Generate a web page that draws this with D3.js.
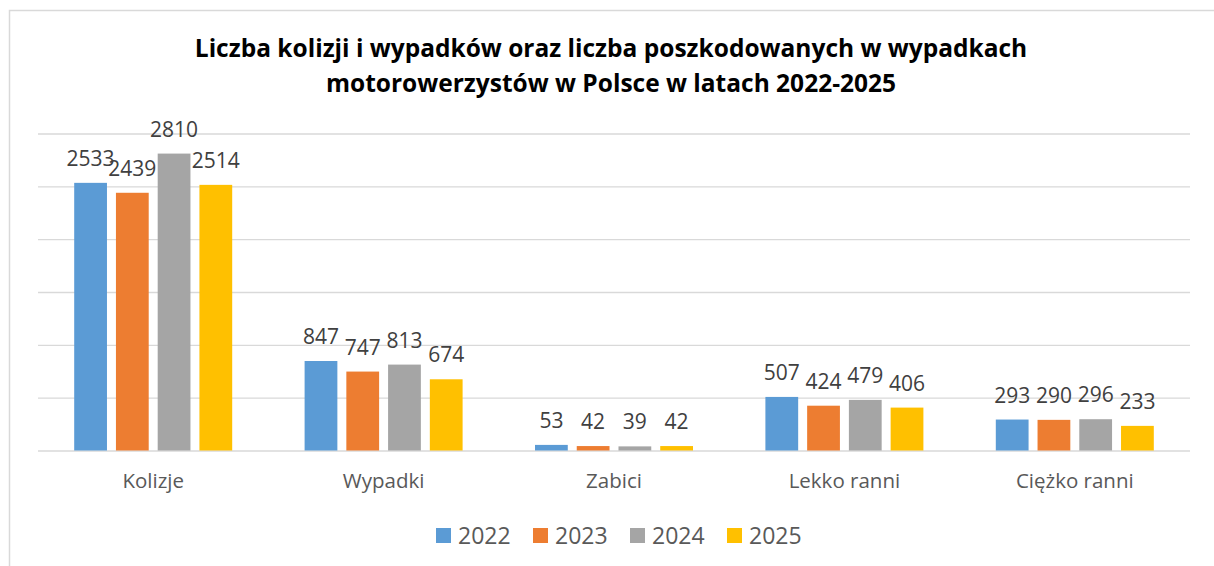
<!DOCTYPE html>
<html>
<head>
<meta charset="utf-8">
<script src="https://cdn.jsdelivr.net/npm/d3@7"></script>
<style>
  body { margin: 0; background: #fff; }
  .grid line { stroke: #d9d9d9; stroke-width: 1.3; }
  .grid .domain { display: none; }
</style>
</head>
<body>
<div class="chart"></div>
<script>
var categories = ["Kolizje", "Wypadki", "Zabici", "Lekko ranni", "Ciężko ranni"];
var years = ["2022", "2023", "2024", "2025"];
var values2022 = [2533, 847, 53, 507, 293];
var values2023 = [2439, 747, 42, 424, 290];
var values2024 = [2810, 813, 39, 479, 296];
var values2025 = [2514, 674, 42, 406, 233];
var yTicks = [0, 500, 1000, 1500, 2000, 2500, 3000];
var colors = ["#5b9bd5", "#ed7d31", "#a5a5a5", "#ffc000"];

var svgWidth = 1214;
var svgHeight = 566;

var seriesValues = [values2022, values2023, values2024, values2025];

// flatten into one row per bar
var data = [];
categories.forEach((c, i) => {
  years.forEach((y, j) => {
    data.push({ category: c, year: y, value: seriesValues[j][i] });
  });
});

var svg = d3.select(".chart")
  .append("svg")
  .attr("width", svgWidth)
  .attr("height", svgHeight);

// outer border of the chart area
svg.append("rect")
  .attr("x", 9.5)
  .attr("y", 10.5)
  .attr("width", 1220)
  .attr("height", 600)
  .attr("fill", "none")
  .attr("stroke", "#d9d9d9")
  .attr("stroke-width", 1.5);

var plotLeft = 38, plotRight = 1190;

var x0 = d3.scaleBand()
  .domain(categories)
  .range([plotLeft, plotRight])
  .padding(0);

var groupWidth = 158;
var x1 = d3.scaleBand()
  .domain(years)
  .range([(x0.bandwidth() - groupWidth) / 2, (x0.bandwidth() + groupWidth) / 2])
  .paddingInner(0.215);

var yScale = d3.scaleLinear()
  .domain([0, 3000])
  .range([450.5, 133.5]);

var color = d3.scaleOrdinal().domain(years).range(colors);

// gridlines
svg.append("g")
  .attr("class", "grid")
  .attr("transform", `translate(${plotLeft}, 0)`)
  .call(d3.axisLeft(yScale).tickValues(yTicks).tickSize(-(plotRight - plotLeft)).tickFormat(""));

// bars
svg.selectAll(".bar")
  .data(data)
  .enter()
  .append("rect")
  .attr("class", "bar")
  .attr("x", d => x0(d.category) + x1(d.year))
  .attr("y", d => yScale(d.value))
  .attr("width", x1.bandwidth())
  .attr("height", d => yScale(0) - yScale(d.value))
  .attr("fill", d => color(d.year));

// value labels
svg.selectAll(".label")
  .data(data)
  .enter()
  .append("text")
  .attr("class", "label")
  .attr("x", d => x0(d.category) + x1(d.year) + x1.bandwidth() / 2)
  .attr("y", d => yScale(d.value) - 17)
  .attr("text-anchor", "middle")
  .attr("font-family", "Open Sans")
  .attr("font-size", "21px")
  .attr("fill", "#404040")
  .text(d => d.value);

// category labels
svg.selectAll(".cat")
  .data(categories)
  .enter()
  .append("text")
  .attr("class", "cat")
  .attr("x", d => x0(d) + x0.bandwidth() / 2)
  .attr("y", 488)
  .attr("text-anchor", "middle")
  .attr("font-family", "Open Sans")
  .attr("font-size", "20.5px")
  .attr("fill", "#595959")
  .text(d => d);

// title
var title = svg.append("text")
  .attr("text-anchor", "middle")
  .attr("font-family", "Open Sans")
  .attr("font-weight", "bold")
  .attr("font-size", "24.5px")
  .attr("fill", "#000");
title.append("tspan").attr("x", 611).attr("y", 57)
  .text("Liczba kolizji i wypadków oraz liczba poszkodowanych w wypadkach");
title.append("tspan").attr("x", 611).attr("y", 92)
  .text("motorowerzystów w Polsce w latach 2022-2025");

// legend
var legend = svg.selectAll(".legend")
  .data(years)
  .enter()
  .append("g")
  .attr("class", "legend")
  .attr("transform", (d, i) => `translate(${436 + i * 97}, 528)`);

legend.append("rect")
  .attr("width", 15)
  .attr("height", 15)
  .attr("fill", d => color(d));

legend.append("text")
  .attr("x", 22)
  .attr("y", 16)
  .attr("font-family", "Open Sans")
  .attr("font-size", "23px")
  .attr("fill", "#595959")
  .text(d => d);
</script>
</body>
</html>
